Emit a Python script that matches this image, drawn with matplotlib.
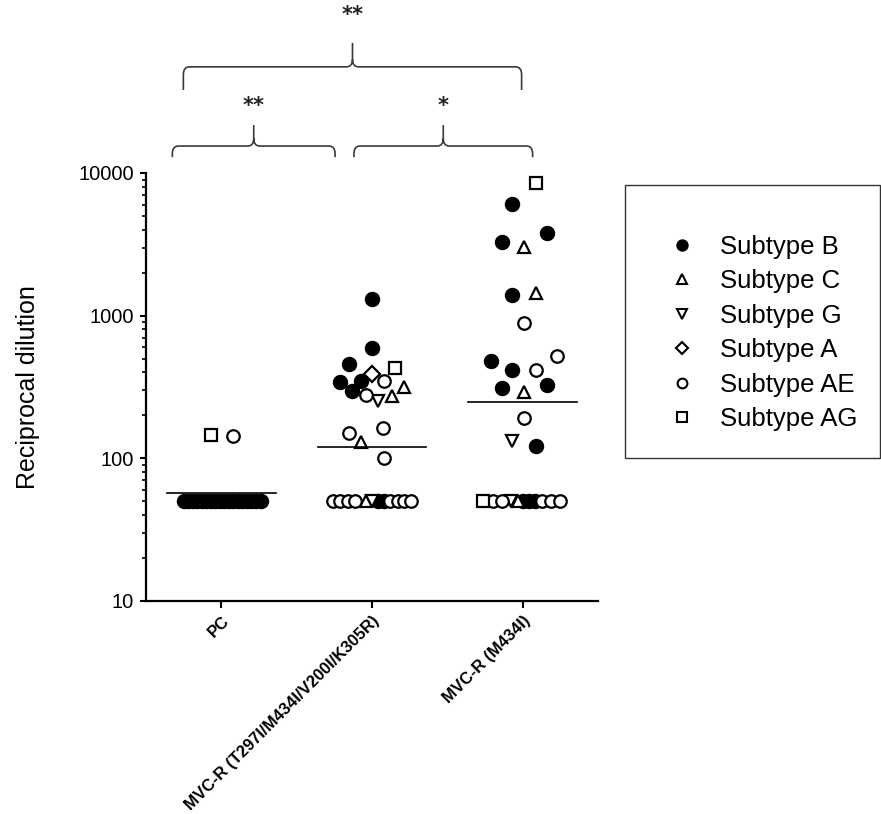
import matplotlib.pyplot as plt
from matplotlib.path import Path
from matplotlib.patches import PathPatch, Rectangle
from matplotlib.lines import Line2D
from matplotlib.transforms import blended_transform_factory

plt.rcParams['font.family'] = ['Liberation Sans', 'DejaVu Sans']

# categories
groups = ["PC", "MVC-R (T297I/M434I/V200I/K305R)", "MVC-R (M434I)"]
subtypes = ["B", "C", "G", "A", "AE", "AG"]
legend_labels = ["Subtype B", "Subtype C", "Subtype G", "Subtype A", "Subtype AE", "Subtype AG"]

# PC group
pc_subtype = ["AG", "AE",
              "B", "B", "B", "B", "B", "B", "B", "B", "B",
              "B", "B", "B", "B", "B", "B", "B", "B", "B"]
pc_value = [145, 143,
            50, 50, 50, 50, 50, 50, 50, 50, 50,
            50, 50, 50, 50, 50, 50, 50, 50, 50]
pc_offset = [-0.07, 0.08,
             -0.25, -0.22, -0.19, -0.16, -0.13, -0.10, -0.07, -0.04, -0.01,
             0.02, 0.05, 0.08, 0.11, 0.14, 0.17, 0.20, 0.23, 0.26]

# MVC-R (T297I/M434I/V200I/K305R)
mid_subtype = ["B", "B", "B", "AG", "A", "B", "B", "AE", "B", "C", "AE", "G", "C",
               "AE", "AE", "C", "AE",
               "AE", "AE", "AE", "AE", "C", "G", "B", "B", "AE", "AE", "AE", "AE"]
mid_value = [1310, 594, 459, 430, 390, 343, 350, 348, 297, 316, 278, 252, 274,
             151, 163, 130, 100,
             50, 50, 50, 50, 50, 50, 50, 50, 50, 50, 50, 50]
mid_offset = [0.0, 0.0, -0.15, 0.15, 0.0, -0.21, -0.07, 0.08, -0.13, 0.21, -0.04, 0.04, 0.13,
              -0.15, 0.07, -0.07, 0.08,
              -0.26, -0.21, -0.16, -0.11, -0.04, 0.0, 0.04, 0.08, 0.12, 0.17, 0.21, 0.26]

# MVC-R (M434I)
m434_subtype = ["AG", "B", "B", "B", "C", "C", "B", "AE", "AE", "B", "B", "AE", "B", "B", "C",
                "AE", "G", "B",
                "AG", "AE", "AE", "G", "C", "B", "B", "B", "AE", "AE", "AE"]
m434_value = [8500, 6070, 3800, 3280, 3020, 1443, 1385, 890, 523, 482, 417, 417, 311, 327, 292,
              192, 132, 122,
              50, 50, 50, 50, 50, 50, 50, 50, 50, 50, 50]
m434_offset = [0.09, -0.07, 0.16, -0.14, 0.01, 0.09, -0.07, 0.01, 0.23, -0.21, -0.07, 0.09, -0.14, 0.16, 0.01,
               0.01, -0.07, 0.09,
               -0.26, -0.20, -0.14, -0.08, -0.03, 0.0, 0.04, 0.08, 0.13, 0.19, 0.25]

medians = [57.5, 121, 247]

marker_of = {"B": "o", "C": "^", "G": "v", "A": "D", "AE": "o", "AG": "s"}
face_of = {"B": "black", "C": "white", "G": "white", "A": "white", "AE": "white", "AG": "white"}
size_of = {"B": 9.5, "C": 9, "G": 9, "A": 8, "AE": 9, "AG": 9}

fig = plt.figure(figsize=(8.81, 8.14), dpi=100)
ax = fig.add_axes([146 / 881, 1 - 601 / 814, (598 - 146) / 881, (601 - 173) / 814])

all_groups = [(pc_subtype, pc_value, pc_offset),
              (mid_subtype, mid_value, mid_offset),
              (m434_subtype, m434_value, m434_offset)]

for gi, (sub, val, off) in enumerate(all_groups):
    # filled first, open on top
    for st in subtypes:
        xs = [gi + o for s, o in zip(sub, off) if s == st]
        ys = [v for s, v in zip(sub, val) if s == st]
        if not xs:
            continue
        ax.plot(xs, ys, linestyle="none", marker=marker_of[st], ms=size_of[st],
                mfc=face_of[st], mec="black", mew=1.6, zorder=3 if st == "B" else 4)
    ax.plot([gi - 0.36, gi + 0.36], [medians[gi], medians[gi]], color="black", lw=1.2, zorder=5)

ax.set_yscale("log")
ax.set_ylim(10, 10000)
ax.set_xlim(-0.5, 2.5)
ax.set_yticks([10, 100, 1000, 10000])
ax.set_yticklabels(["10", "100", "1000", "10000"], fontsize=14.5)
ax.set_xticks(range(len(groups)))
ax.set_xticklabels(groups, rotation=45, ha="right", va="top", rotation_mode="anchor",
                   fontsize=12, fontweight="bold")
ax.set_ylabel("Reciprocal dilution", fontsize=18, labelpad=28)
ax.spines["top"].set_visible(False)
ax.spines["right"].set_visible(False)
ax.spines["left"].set_linewidth(1.6)
ax.spines["bottom"].set_linewidth(1.6)
ax.tick_params(axis="y", which="major", length=4.5, width=1.5, pad=4)
ax.tick_params(axis="y", which="minor", length=3, width=1.2)
ax.tick_params(axis="x", length=5, width=1.5, pad=4)

# significance braces
trans = blended_transform_factory(ax.transData, ax.transAxes)


def brace(x0, x1, y_tip, y_bar, y_peak, label, y_text):
    xc = (x0 + x1) / 2
    rx, ry = 0.04, 0.018
    verts = [(x0, y_tip), (x0, y_bar - ry), (x0, y_bar), (x0 + rx, y_bar),
             (xc - rx, y_bar), (xc, y_bar), (xc, y_bar + ry), (xc, y_peak),
             (xc, y_bar + ry), (xc, y_bar), (xc + rx, y_bar),
             (x1 - rx, y_bar), (x1, y_bar), (x1, y_bar - ry), (x1, y_tip)]
    codes = [Path.MOVETO, Path.LINETO, Path.CURVE3, Path.CURVE3,
             Path.LINETO, Path.CURVE3, Path.CURVE3, Path.LINETO,
             Path.MOVETO, Path.CURVE3, Path.CURVE3,
             Path.LINETO, Path.CURVE3, Path.CURVE3, Path.LINETO]
    ax.add_patch(PathPatch(Path(verts, codes), transform=trans, fill=False,
                           edgecolor="#3a3a3a", lw=1.2, clip_on=False))
    ax.text(xc, y_text, label, transform=trans, ha="center", va="center",
            fontsize=15, fontweight="bold", family="DejaVu Sans", color="#222222")


brace(-0.325, 0.755, 1.037, 1.063, 1.112, "**", 1.157)
brace(0.88, 2.066, 1.037, 1.063, 1.112, "*", 1.157)
brace(-0.252, 1.993, 1.194, 1.248, 1.304, "**", 1.369)

# legend
handles = [Line2D([], [], linestyle="none", marker=marker_of[st], ms=size_of[st] * 0.78,
                  mfc=face_of[st], mec="black", mew=1.5) for st in subtypes]
fig.patches.append(Rectangle((625 / 881, 1 - 458 / 814), 255 / 881, 273 / 814,
                             transform=fig.transFigure, fill=False, edgecolor="#333333", lw=1.0))
fig.legend(handles, legend_labels, loc="center left", bbox_to_anchor=(669 / 881, 1 - 333 / 814),
           frameon=False, fontsize=18.5, handlelength=1.0, handletextpad=0.98,
           labelspacing=0.41, borderpad=0, borderaxespad=0)

fig.savefig("out.png", dpi=100)
